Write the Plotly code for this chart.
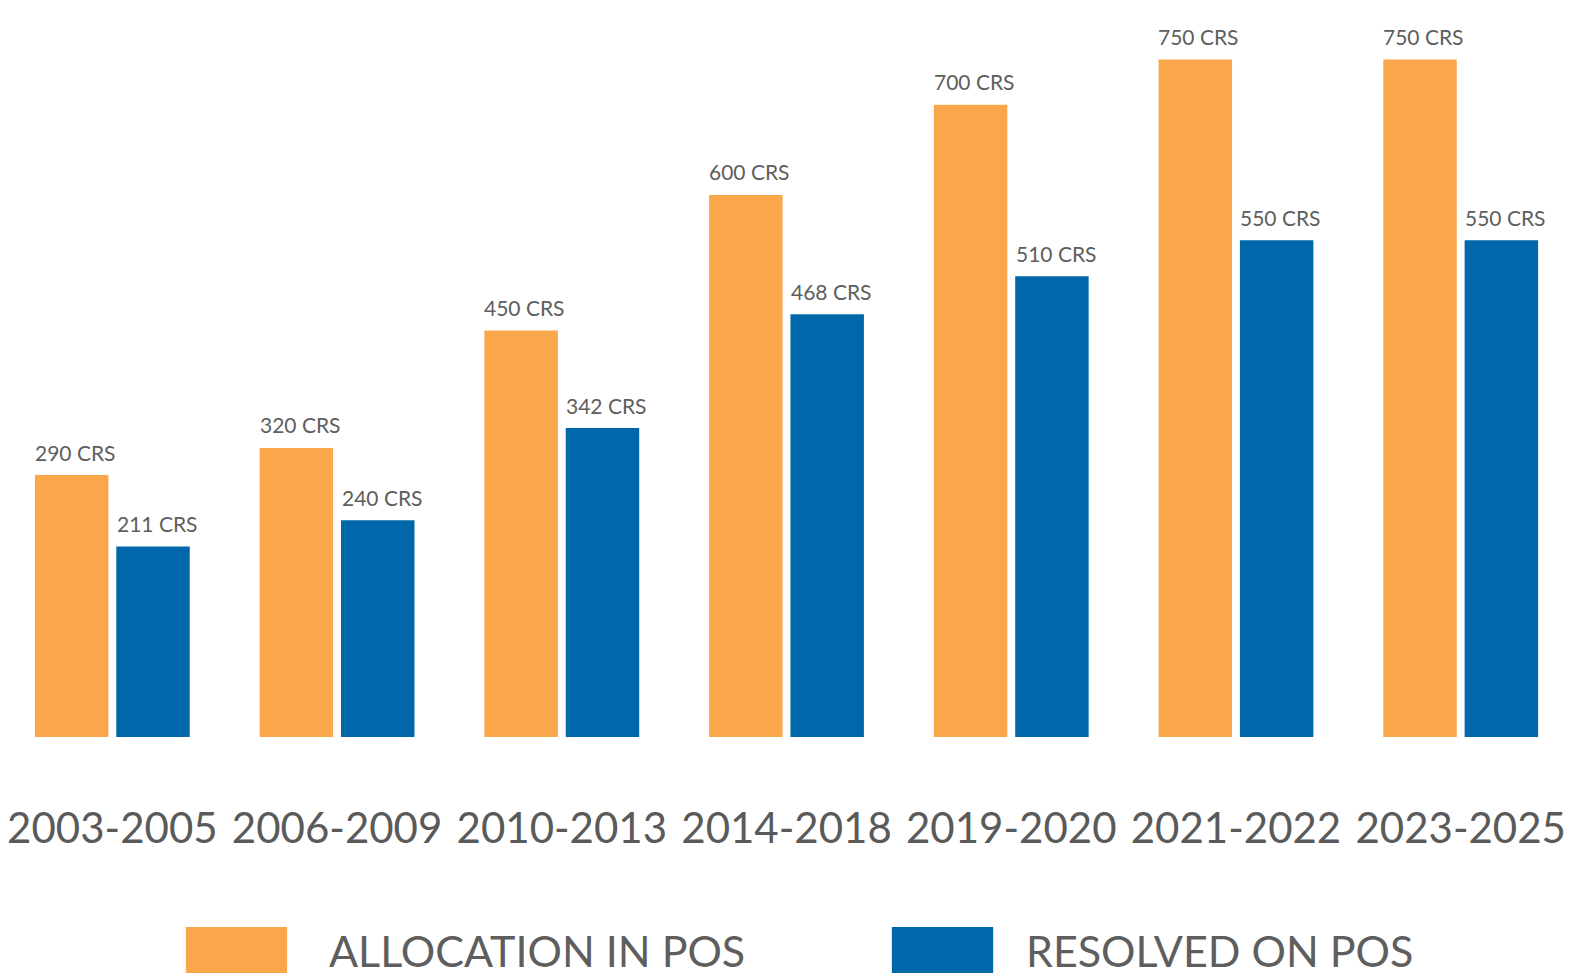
import plotly.graph_objects as go

periods = ["2003-2005", "2006-2009", "2010-2013", "2014-2018", "2019-2020", "2021-2022", "2023-2025"]
allocation = [290, 320, 450, 600, 700, 750, 750]
resolved = [211, 240, 342, 468, 510, 550, 550]
series_names = ["ALLOCATION IN POS", "RESOLVED ON POS"]
colors = ["#FAA64B", "#0067AB"]
unit = "CRS"

W, H = 1580, 973
OFFX, OFFY = 14, 8  # page offsets
plot_bottom_px = 737 - OFFY
fig = go.Figure()
for name, vals, col in zip(series_names, [allocation, resolved], colors):
    fig.add_trace(go.Bar(x=periods, y=vals, name=name, marker=dict(color=col, line=dict(width=0)),
                         showlegend=False, hoverinfo="x+y"))

annotations = []
offsets = [-41, 41]
for vals, dx in zip([allocation, resolved], offsets):
    for p, v in zip(periods, vals):
        annotations.append(dict(x=p, y=v, xref="x", yref="y", text=f"{v} {unit}", showarrow=False,
                                xshift=dx + 4, yshift=23, yanchor="middle", xanchor="center",
                                font=dict(family="Lato", size=21, color="#5e5e5e")))

ph = plot_bottom_px
def py(px):
    return (ph - (px - OFFY)) / ph
def pxn(px):
    return (px - OFFX) / W
legend_specs = [(182, 284, 324), (893, 995, 1026)]
shapes = []
for (x0, x1, tx), name, col in zip(legend_specs, series_names, colors):
    shapes.append(dict(type="rect", xref="paper", yref="paper", x0=pxn(x0), x1=pxn(x1),
                       y0=py(973), y1=py(927), fillcolor=col, line=dict(width=0), layer="above"))
    annotations.append(dict(x=pxn(tx), y=py(950), xref="paper", yref="paper", text=name, showarrow=False,
                            xanchor="left", yanchor="middle",
                            font=dict(family="Lato", size=43, color="#5e5e5e")))

spacing = 226.3
x0 = -(108 - OFFX) / spacing
fig.update_layout(
    width=W, height=H,
    margin=dict(l=0, r=0, t=0, b=H - plot_bottom_px, pad=0),
    paper_bgcolor="white", plot_bgcolor="white",
    barmode="group", bargap=0.276, bargroupgap=0.097,
    xaxis=dict(range=[x0, x0 + W / spacing], showgrid=False, zeroline=False, showline=False, ticks="",
               tickfont=dict(family="Lato", size=42, color="#5a5a5a"), ticklabelstandoff=63,
               fixedrange=True),
    yaxis=dict(range=[0, 807], visible=False, fixedrange=True),
    shapes=shapes, annotations=annotations,
)
fig.write_html("out.html")
